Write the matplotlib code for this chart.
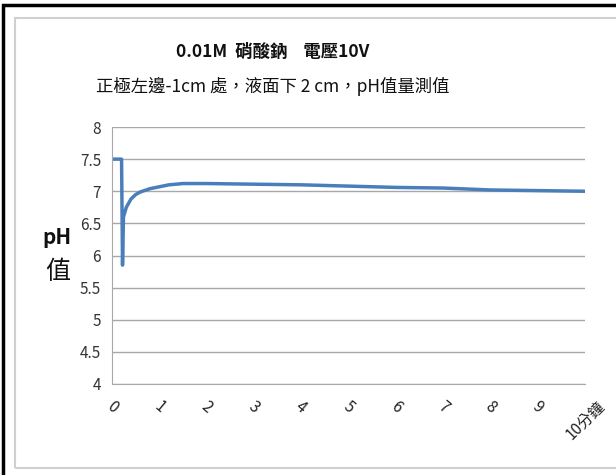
import matplotlib.pyplot as plt
from matplotlib.patches import Rectangle

plt.rcParams['font.family'] = ['Noto Sans CJK TC', 'DejaVu Sans']

# time in minutes, pH readings
minutes = [0, 0.1, 0.2, 0.22, 0.24, 0.3, 0.4, 0.5, 0.6, 0.8, 1.0, 1.2, 1.5,
           2, 3, 4, 5, 6, 7, 8, 9, 10]
ph = [7.5, 7.5, 7.5, 5.85, 6.6, 6.75, 6.88, 6.95, 6.99, 7.04, 7.07, 7.1, 7.12,
      7.12, 7.11, 7.1, 7.08, 7.06, 7.05, 7.02, 7.01, 7.0]
x_labels = ['0', '1', '2', '3', '4', '5', '6', '7', '8', '9', '10分鐘']
y_ticks = [4, 4.5, 5, 5.5, 6, 6.5, 7, 7.5, 8]

fig = plt.figure(figsize=(6.16, 4.75), dpi=100)

# frames around the chart
fig.patches.append(Rectangle((0.005, -0.05), 1.2, 1.04, transform=fig.transFigure,
                             fill=False, edgecolor='black', linewidth=2.5))
fig.patches.append(Rectangle((0.025, 0.015), 1.2, 0.948, transform=fig.transFigure,
                             fill=False, edgecolor='#d0d0d0', linewidth=1.5))

ax = fig.add_axes([0.182, 0.1916, 0.768, 0.541])
ax.plot(minutes, ph, color='#4a7ebb', linewidth=2.5, solid_joinstyle='round')
ax.set_xlim(0, 10)
ax.set_ylim(4, 8)
ax.set_yticks(y_ticks)
ax.set_yticklabels(['4', '4.5', '5', '5.5', '6', '6.5', '7', '7.5', '8'],
                   fontsize=11, color='#333333')
ax.yaxis.grid(True, color='#a8a8a8', linewidth=1)
ax.set_axisbelow(True)
for side in ['top', 'right']:
    ax.spines[side].set_visible(False)
ax.spines['left'].set_color('#a8a8a8')
ax.spines['bottom'].set_color('#a8a8a8')
ax.tick_params(length=0, pad=8)

ax.set_xticks(range(11))
ax.set_xticklabels(x_labels, fontsize=11, color='#222222')
labels = ax.get_xticklabels()
for lab in labels[:-1]:
    lab.set_rotation(-40)
    lab.set_ha('center')
labels[-1].set_rotation(45)
labels[-1].set_ha('center')
labels[-1].set_va('top')
ax.tick_params(axis='x', pad=10)

fig.text(0.443, 0.89, '0.01M  硝酸鈉    電壓10V', ha='center', va='center',
         fontsize=12.5, fontweight='bold', color='#111111')
fig.text(0.443, 0.817, '正極左邊-1cm 處，液面下 2 cm，pH值量測值', ha='center',
         va='center', fontsize=12.5, color='#111111')
fig.text(0.093, 0.5, 'pH', ha='center', va='center', fontsize=15,
         fontweight='bold', color='#111111')
fig.text(0.093, 0.427, '值', ha='center', va='center', fontsize=18, color='#111111')

fig.savefig('out.png', dpi=100)
